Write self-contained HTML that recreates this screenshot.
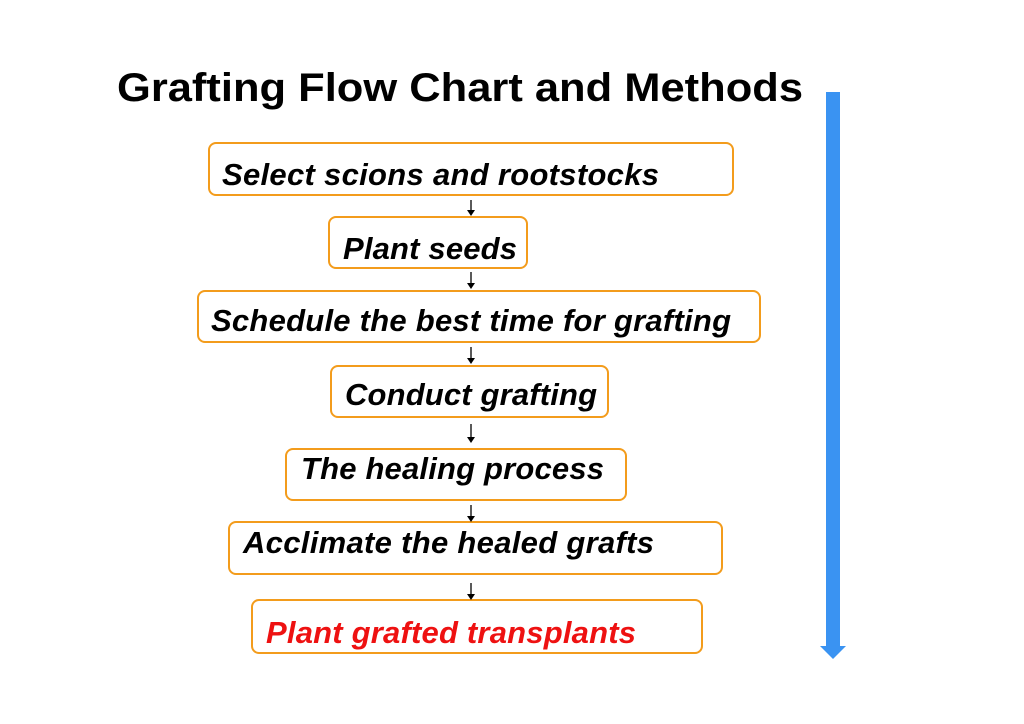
<!DOCTYPE html>
<html><head><style>html,body{margin:0;padding:0;background:#fff;}svg{display:block}</style></head>
<body>
<svg width="1024" height="724" xmlns="http://www.w3.org/2000/svg" font-family="Liberation Sans, Arial, sans-serif">
<text x="117" y="101" font-size="40" font-weight="bold" textLength="686" lengthAdjust="spacingAndGlyphs">Grafting Flow Chart and Methods</text>
<g fill="none" stroke="#f39c1c" stroke-width="2">
<rect x="209" y="143" width="524" height="52" rx="7"/>
<rect x="329" y="217" width="198" height="51" rx="7"/>
<rect x="198" y="291" width="562" height="51" rx="7"/>
<rect x="331" y="366" width="277" height="51" rx="7"/>
<rect x="286" y="449" width="340" height="51" rx="7"/>
<rect x="229" y="522" width="493" height="52" rx="7"/>
<rect x="252" y="600" width="450" height="53" rx="7"/>
</g>
<g font-size="31" font-weight="bold" font-style="italic" lengthAdjust="spacingAndGlyphs">
<text x="222" y="185" textLength="437">Select scions and rootstocks</text>
<text x="343" y="259" textLength="174">Plant seeds</text>
<text x="211" y="331" textLength="520">Schedule the best time for grafting</text>
<text x="345" y="405" textLength="252">Conduct grafting</text>
<text x="301" y="479" textLength="303">The healing process</text>
<text x="243" y="553" textLength="411">Acclimate the healed grafts</text>
<text x="266" y="643" textLength="370" fill="#ee1111">Plant grafted transplants</text>
</g>
<g stroke="#000" stroke-width="1.3">
<line x1="471" y1="200" x2="471" y2="212"/>
<line x1="471" y1="272" x2="471" y2="285"/>
<line x1="471" y1="347" x2="471" y2="360"/>
<line x1="471" y1="424" x2="471" y2="439"/>
<line x1="471" y1="505" x2="471" y2="518"/>
<line x1="471" y1="583" x2="471" y2="596"/>
</g>
<g fill="#000">
<polygon points="467,210 475,210 471,216"/>
<polygon points="467,283 475,283 471,289"/>
<polygon points="467,358 475,358 471,364"/>
<polygon points="467,437 475,437 471,443"/>
<polygon points="467,516 475,516 471,522"/>
<polygon points="467,594 475,594 471,600"/>
</g>
<rect x="826" y="92" width="14" height="556" fill="#3a93f2"/>
<polygon points="820,646 846,646 833,659" fill="#3a93f2"/>
</svg>
</body></html>
